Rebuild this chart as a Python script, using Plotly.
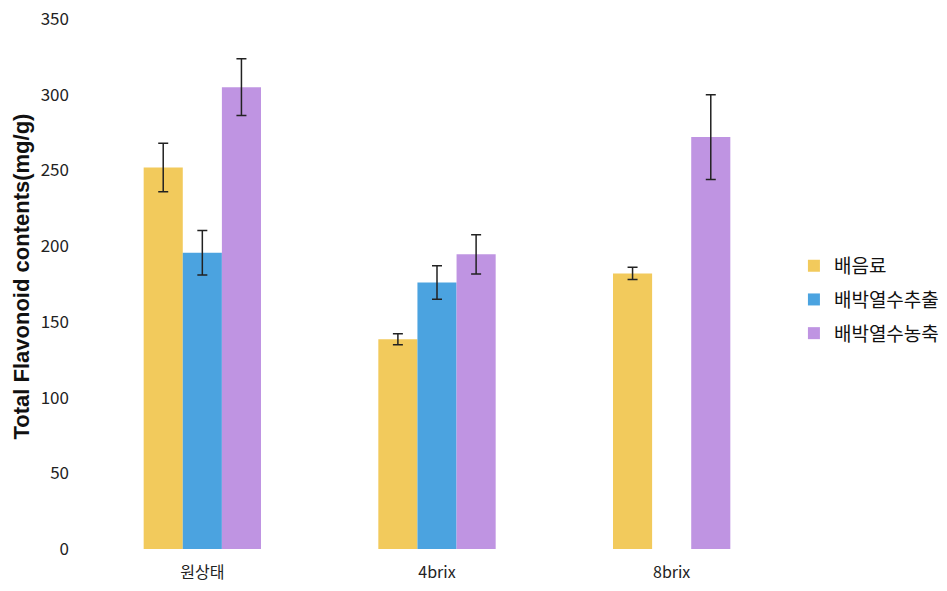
import plotly.graph_objects as go

# Sample groups on the x axis
categories = ["원상태", "4brix", "8brix"]

# Total flavonoid contents (mg/g) and standard deviations per series
series_names = ["배음료", "배박열수추출", "배박열수농축"]
pear_drink = [252, 138.5, 182]
pear_drink_err = [16, 3.7, 4]
pomace_extract = [195.7, 176, None]
pomace_extract_err = [14.7, 11, None]
pomace_concentrate = [305, 194.6, 272]
pomace_concentrate_err = [18.8, 13, 28]

colors = ["#F2CA5C", "#4BA3E0", "#BF94E2"]

values = [pear_drink, pomace_extract, pomace_concentrate]
errors = [pear_drink_err, pomace_extract_err, pomace_concentrate_err]

FONT = "Noto Sans CJK KR, DejaVu Sans, sans-serif"

fig = go.Figure()
for i, name in enumerate(series_names):
    fig.add_trace(go.Bar(
        x=categories,
        y=values[i],
        name=name,
        legendgroup=name,
        marker=dict(color=colors[i], line=dict(width=0)),
        error_y=dict(type="data", array=errors[i], visible=True,
                     color="#222222", thickness=1.5, width=5),
    ))

fig.update_layout(
    width=947, height=591,
    barmode="group", bargap=0.5, bargroupgap=0,
    plot_bgcolor="white", paper_bgcolor="white",
    margin=dict(l=85, r=158, t=19, b=42, autoexpand=False),
    font=dict(family=FONT, size=16, color="#222222"),
    showlegend=True,
    legend=dict(x=1.007, xanchor="left", y=0.47, yanchor="middle",
                font=dict(size=19, color="#111111"),
                tracegroupgap=6, traceorder="grouped",
                itemwidth=30),
    xaxis=dict(showline=False, showgrid=False, zeroline=False,
               ticks="", tickfont=dict(size=16), ticklabelstandoff=12,
               automargin=False),
    yaxis=dict(range=[0, 350], dtick=50, showgrid=False, zeroline=False,
               showline=False, ticks="", tickfont=dict(size=17),
               ticklabelstandoff=15, automargin=False),
    annotations=[dict(
        text="<b>Total Flavonoid contents(mg/g)</b>",
        textangle=-90, xref="paper", yref="paper",
        x=(21 - 85) / 704, y=(549 - 276.5) / 530,
        xanchor="center", yanchor="middle", showarrow=False,
        font=dict(family="Liberation Sans, Arial, sans-serif", size=22,
                  color="#111111"),
    )],
)

fig.write_html("out.html")
